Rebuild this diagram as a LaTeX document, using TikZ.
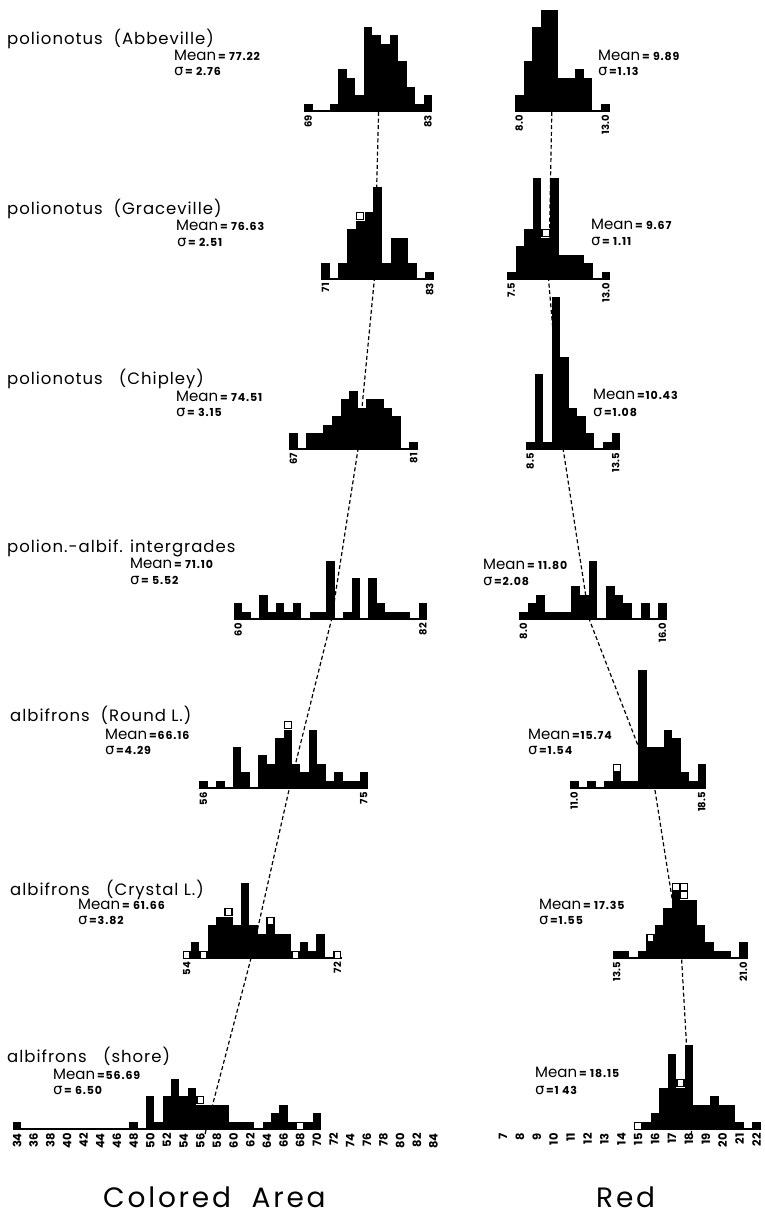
\documentclass[tikz,border=0pt]{standalone}
\usepackage{fontspec}
\setmainfont{Poppins}
\newfontfamily\gk{DejaVu Sans}
\newfontfamily\ttlf[LetterSpace=6]{Poppins}
\newfontfamily\numf[LetterSpace=8]{Poppins}
\newfontfamily\bigf[LetterSpace=10]{Poppins}
\def\cu{8.5}
\tikzset{
  opencell/.style={fill=white,draw=black,line width=1.4pt},
  meanline/.style={draw=black,line width=1.2pt,dash pattern=on 4pt off 2.6pt},
  ttl/.style={anchor=base west,inner sep=0pt,font=\ttlf\fontsize{16.5}{16.5}\selectfont},
  mtx/.style={anchor=base west,inner sep=0pt},
  axlbl/.style={rotate=90,anchor=east,inner sep=0pt,font=\bfseries\fontsize{10}{10}\selectfont},
  axlblb/.style={rotate=90,anchor=east,inner sep=0pt,font=\bfseries\fontsize{11.5}{11.5}\selectfont},
  bigttl/.style={anchor=base west,inner sep=0pt,font=\bigf\fontsize{28}{28}\selectfont}
}
\newcommand{\mtxt}[1]{{\fontsize{15}{15}\selectfont Mean}\hspace{2pt}{\numf\bfseries\fontsize{11}{11}\selectfont #1}}
\newcommand{\stxt}[1]{{\gk\fontsize{15}{15}\selectfont σ}\hspace{1.5pt}{\numf\bfseries\fontsize{11}{11}\selectfont #1}}
\newcommand{\drawhist}[5]{%
  \fill[black] (#1,#3) rectangle ({#1+#4*#2},{#3-1.8});
  \foreach \h/\o [count=\i from 0] in {#5} {%
    \pgfmathsetmacro{\xa}{#1+\i*#2}%
    \pgfmathsetmacro{\xb}{#1+(\i+1)*#2}%
    \pgfmathtruncatemacro{\hb}{\h-\o}%
    \ifnum\hb>0
      \fill[black] (\xa,#3) rectangle (\xb,{#3-\hb*\cu});
    \fi
    \ifnum\o>0
      \foreach \k in {1,...,\o} {%
        \pgfmathsetmacro{\ya}{#3-(\hb+\k-1)*\cu}%
        \draw[opencell] ({\xa+0.75},{\ya-0.75}) rectangle ({\xb-0.75},{\ya-\cu+0.75});
      }%
    \fi
  }%
}
\begin{document}
\begin{tikzpicture}[x=1pt,y=-1pt]
\useasboundingbox[fill=white] (0,0) rectangle (765,1223);
% mean points
\coordinate (mL1) at (378.6,112);
\coordinate (mL2) at (374.3,280);
\coordinate (mL3) at (357.9,450);
\coordinate (mL4) at (331.4,620);
\coordinate (mL5) at (289.2,789);
\coordinate (mL6) at (250.8,959);
\coordinate (mL7) at (206,1130);
\coordinate (eL) at (204.4,1137);
\coordinate (mR1) at (551.8,112);
\coordinate (mR2) at (548.6,280);
\coordinate (mR3) at (563.3,450);
\coordinate (mR4) at (589.5,620);
\coordinate (mR5) at (654.8,789);
\coordinate (mR6) at (681.6,959);
\coordinate (mR7) at (691.4,1130);
\coordinate (eR) at (691.7,1137);
\draw[meanline] (mL1) -- (mL2) -- (mL3) -- (mL4) -- (mL5) -- (mL6) -- (mL7) -- (eL);
\draw[meanline] (mR1) -- (mR2) -- (mR3) -- (mR4) -- (mR5) -- (mR6) -- (mR7) -- (eR);

% ---------- row 1
\node[ttl] (t1) at (7,45) {polionotus\ \ (Abbeville)};
\node[mtx] (m1l) at (174,61) {\mtxt{= 77.22}};
\node[mtx] (s1l) at (174,76) {\stxt{= 2.76}};
\node[mtx] (m1r) at (598,61) {\mtxt{= 9.89}};
\node[mtx] (s1r) at (598,76) {\stxt{=1.13}};
\drawhist{304}{8.55}{112}{15}{1/0,0/0,0/0,1/0,5/0,4/0,2/0,10/0,9/0,8/0,9/0,6/0,3/0,1/0,2/0}
\node[axlbl] (a1a) at ({304+0.5*8.55},115) {69};
\node[axlbl] (a1b) at ({304+14.5*8.55},115) {83};
\drawhist{515}{8.6}{112}{11}{2/0,6/0,10/0,12/0,12/0,4/0,4/0,5/0,4/0,0/0,1/0}
\node[axlbl] (b1a) at ({515+0.5*8.6},115) {8.0};
\node[axlbl] (b1b) at ({515+10.5*8.6},115) {13.0};

% ---------- row 2
\node[ttl] (t2) at (7,214) {polionotus\ \ (Graceville)};
\node[mtx] (m2l) at (176,230) {\mtxt{= 76.63}};
\node[mtx] (s2l) at (177,246) {\stxt{= 2.51}};
\node[mtx] (m2r) at (591,229) {\mtxt{= 9.67}};
\node[mtx] (s2r) at (591,245) {\stxt{= 1.11}};
\drawhist{321}{8.7}{280}{13}{2/0,0/0,2/0,6/0,8/1,8/0,11/0,2/0,5/0,5/0,2/0,0/0,1/0}
\node[axlbl] (a2a) at ({321+0.5*8.7},283) {71};
\node[axlbl] (a2b) at ({321+12.5*8.7},283) {83};
\drawhist{507}{8.6}{280}{12}{1/0,4/0,6/0,12/0,6/1,12/0,3/0,3/0,3/0,2/0,0/0,1/0}
\node[axlbl] (b2a) at ({507+0.5*8.6},283) {7.5};
\node[axlbl] (b2b) at ({507+11.5*8.6},283) {13.0};

% ---------- row 3
\node[ttl] (t3) at (7,384) {polionotus\ \ \ (Chipley)};
\node[mtx] (m3l) at (176,401) {\mtxt{= 74.51}};
\node[mtx] (s3l) at (176,416) {\stxt{= 3.15}};
\node[mtx] (m3r) at (593,399) {\mtxt{=10.43}};
\node[mtx] (s3r) at (593,416) {\stxt{=1.08}};
\drawhist{289}{8.6}{450}{15}{2/0,0/0,2/0,2/0,3/0,4/0,6/0,7/0,5/0,6/0,6/0,5/0,4/0,0/0,1/0}
\node[axlbl] (a3a) at ({289+0.5*8.6},453) {67};
\node[axlbl] (a3b) at ({289+14.5*8.6},453) {81};
\drawhist{526}{8.55}{450}{11}{1/0,9/0,1/0,18/0,11/0,5/0,4/0,2/0,0/0,1/0,2/0}
\node[axlbl] (b3a) at ({526+0.5*8.55},453) {8.5};
\node[axlbl] (b3b) at ({526+10.5*8.55},453) {13.5};

% ---------- row 4
\node[ttl] (t4) at (7,552) {polion.-albif. intergrades};
\node[mtx] (m4l) at (130,568) {\mtxt{= 71.10}};
\node[mtx] (s4l) at (130,584) {\stxt{= 5.52}};
\node[mtx] (m4r) at (483,569) {\mtxt{= 11.80}};
\node[mtx] (s4r) at (483,585) {\stxt{=2.08}};
\drawhist{234}{8.4}{620}{23}{2/0,1/0,0/0,3/0,1/0,2/0,1/0,2/0,0/0,1/0,1/0,7/0,0/0,1/0,5/0,0/0,5/0,2/0,1/0,1/0,1/0,0/0,2/0}
\node[axlbl] (a4a) at ({234+0.5*8.4},623) {60};
\node[axlbl] (a4b) at ({234+22.5*8.4},623) {82};
\drawhist{519}{8.7}{620}{17}{1/0,2/0,3/0,1/0,1/0,1/0,4/0,3/0,7/0,0/0,4/0,3/0,2/0,0/0,2/0,0/0,2/0}
\node[axlbl] (b4a) at ({519+0.5*8.7},623) {8.0};
\node[axlbl] (b4b) at ({519+16.5*8.7},623) {16.0};

% ---------- row 5
\node[ttl] (t5) at (10,721) {albifrons\ \ (Round L.)};
\node[mtx] (m5l) at (105,739) {\mtxt{=66.16}};
\node[mtx] (s5l) at (105,754) {\stxt{=4.29}};
\node[mtx] (m5r) at (528,739) {\mtxt{=15.74}};
\node[mtx] (s5r) at (528,754) {\stxt{=1.54}};
\drawhist{199.2}{8.44}{789}{20}{1/0,0/0,1/0,0/0,5/0,2/0,0/0,4/0,3/0,6/0,8/1,3/0,2/0,7/0,3/0,1/0,2/0,1/0,1/0,2/0}
\node[axlbl] (a5a) at ({199.2+0.5*8.44},792) {56};
\node[axlbl] (a5b) at ({199.2+19.5*8.44},792) {75};
\drawhist{570}{8.5}{789}{16}{1/0,0/0,1/0,0/0,1/0,3/1,1/0,1/0,14/0,5/0,5/0,7/0,6/0,2/0,1/0,3/0}
\node[axlbl] (b5a) at ({570+0.5*8.5},792) {11.0};
\node[axlbl] (b5b) at ({570+15.5*8.5},792) {18.5};

% ---------- row 6
\node[ttl] (t6) at (10,895) {albifrons\ \ \ (Crystal L.)};
\node[mtx] (m6l) at (78,909) {\mtxt{= 61.66}};
\node[mtx] (s6l) at (78,924) {\stxt{=3.82}};
\node[mtx] (m6r) at (539,909) {\mtxt{= 17.35}};
\node[mtx] (s6r) at (539,924) {\stxt{=1.55}};
\drawhist{182.5}{8.37}{959}{19}{1/1,2/0,1/1,4/0,5/0,6/1,4/0,9/0,4/0,3/0,5/1,3/0,3/0,1/1,2/0,1/0,3/0,0/0,1/1}
\node[axlbl] (a6a) at ({182.5+0.5*8.37},962) {54};
\node[axlbl] (a6b) at ({182.5+18.5*8.37},962) {72};
\drawhist{612.5}{8.44}{959}{16}{1/0,1/0,0/0,1/0,3/1,4/0,6/0,9/1,9/2,7/0,4/0,2/0,1/0,1/0,0/0,2/0}
\node[axlbl] (b6a) at ({612.5+0.5*8.44},962) {13.5};
\node[axlbl] (b6b) at ({612.5+15.5*8.44},962) {21.0};

% ---------- row 7
\node[ttl] (t7) at (7,1062) {albifrons\ \ \ (shore)};
\node[mtx] (m7l) at (53,1079) {\mtxt{=56.69}};
\node[mtx] (s7l) at (53,1094) {\stxt{= 6.50}};
\node[mtx] (m7r) at (535,1077) {\mtxt{= 18.15}};
\node[mtx] (s7r) at (535,1094) {\stxt{=1 43}};
\drawhist{12.8}{8.33}{1130}{37}{1/0,0/0,0/0,0/0,0/0,0/0,0/0,0/0,0/0,0/0,0/0,0/0,0/0,0/0,1/0,0/0,4/0,1/0,4/0,6/0,4/0,5/0,4/1,3/0,3/0,3/0,1/0,1/0,1/0,0/0,1/0,2/0,3/0,1/0,1/1,1/0,2/0}
\foreach \v in {34,36,...,84} \node[axlblb] (bx\v) at ({17+(\v-34)*8.33},1133) {\v};
\drawhist{634}{8.45}{1130}{15}{1/1,1/0,2/0,5/0,9/0,6/1,10/0,3/0,3/0,4/0,3/0,3/0,1/0,0/0,1/0}
\foreach \v in {7,...,22} \node[axlblb] (by\v) at ({503+(\v-7)*16.9},1133) {\v};

% ---------- titles
\node[bigttl] (tca) at (103,1207) {Colored\ \ Area};
\node[bigttl] (tred) at (596,1207) {Red};
\end{tikzpicture}
\end{document}
